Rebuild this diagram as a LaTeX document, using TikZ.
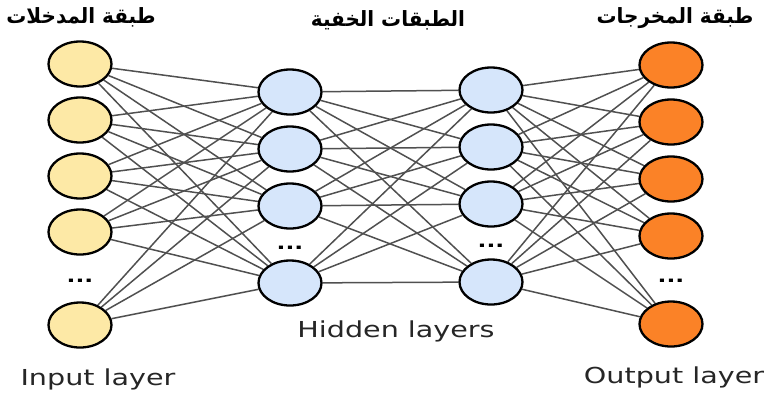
\documentclass[tikz,border=0pt]{standalone}
\usepackage{fontspec}
\setmainfont{DejaVu Sans}
\newfontfamily\capfont[FakeStretch=1.3]{DejaVu Sans}
\newfontfamily\arabicfont[Script=Arabic,FakeStretch=0.95]{DejaVu Sans}
\TeXXeTstate=1
\usetikzlibrary{shapes.geometric,backgrounds}

\definecolor{inyellow}{HTML}{FDE9A6}
\definecolor{hidblue}{HTML}{D6E6FB}
\definecolor{outorange}{HTML}{FB8227}
\definecolor{linkgray}{HTML}{505050}

\begin{document}
\begin{tikzpicture}[x=1pt, y=-1pt,
    neuron/.style={draw, ellipse, line width=2.3pt, minimum width=63pt,
                   minimum height=45pt, inner sep=0pt},
    inneuron/.style={neuron, fill=inyellow},
    hidneuron/.style={neuron, fill=hidblue},
    outneuron/.style={neuron, fill=outorange},
    link/.style={draw=linkgray, line width=1.5pt},
    vdots/.style={font=\capfont\bfseries\fontsize{18}{18}\selectfont, inner sep=0pt},
    title/.style={font=\arabicfont\bfseries\fontsize{21}{22}\selectfont, inner sep=0pt},
    caption/.style={font=\capfont\fontsize{22}{24}\selectfont, text=black!85,
                    anchor=base, inner sep=0pt},
  ]
    \useasboundingbox (0,0) rectangle (770,392);

    % input layer
    \foreach \i/\y in {1/64, 2/120, 3/176, 4/232, 5/325}
        \node[inneuron] (in\i) at (80,\y) {};
    \node[vdots] (indots) at (80,281) {...};

    % two hidden layers
    \foreach \i/\y in {1/92, 2/149, 3/206, 4/283}
        \node[hidneuron] (ha\i) at (290,\y) {};
    \foreach \i/\y in {1/90, 2/147, 3/204, 4/282}
        \node[hidneuron] (hb\i) at (491,\y) {};
    \node[vdots] (hadots) at (290,248) {...};
    \node[vdots] (hbdots) at (491,246) {...};

    % output layer
    \foreach \i/\y in {1/65, 2/122, 3/179, 4/236, 5/324}
        \node[outneuron] (out\i) at (671,\y) {};
    \node[vdots] (outdots) at (671,281) {...};

    % weights, fully connected
    \begin{scope}[on background layer]
        \foreach \i in {1,...,5}
            \foreach \j in {1,...,4}
                \draw[link] (in\i) -- (ha\j);
        \foreach \i in {1,...,4}
            \foreach \j in {1,...,4}
                \draw[link] (ha\i) -- (hb\j);
        \foreach \i in {1,...,4}
            \foreach \j in {1,...,5}
                \draw[link] (hb\i) -- (out\j);
    \end{scope}

    % layer titles
    \node[title] (intitle)  at (81,17)  {\beginR طبقة المدخلات\endR};
    \node[title] (hidtitle) at (388,20) {\beginR الطبقات الخفية\endR};
    \node[title] (outtitle) at (675,18) {\beginR طبقة المخرجات\endR};

    \node[caption] (incap)  at (98,385)  {Input layer};
    \node[caption] (hidcap) at (396,337) {Hidden layers};
    \node[caption] (outcap) at (674,383) {Output layer};
\end{tikzpicture}
\end{document}
